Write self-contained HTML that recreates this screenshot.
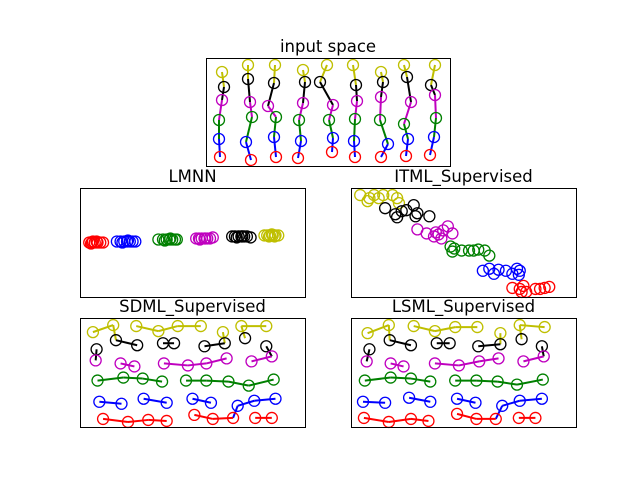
<!DOCTYPE html>
<html><head><meta charset="utf-8"><style>
body{margin:0;background:#fff;width:640px;height:480px;overflow:hidden}
text{font-family:"DejaVu Sans","Liberation Sans",sans-serif;font-size:16.5px;fill:#000}
</style></head><body>
<svg id="chart" width="640" height="480" viewBox="0 0 640 480" xmlns="http://www.w3.org/2000/svg"></svg>
<script>
const classes = ['yellow','black','magenta','green','blue','red'];
const classColors = {yellow:'#bfbf00',black:'#000000',magenta:'#bf00bf',green:'#008000',blue:'#0000ff',red:'#ff0000'};

// input space: 9 columns, one point per class
const inputX = {
 yellow:[16,42,69,97,121,147,175,198,229], black:[18,42,68,99,114,150,177,201,225],
 magenta:[16,44,62,97,127,151,175,205,229], green:[13,46,70,93,123,149,174,198,230],
 blue:[13,40,68,95,127,148,182,202,228], red:[14,45,70,92,126,149,175,200,224]};
const inputY = {
 yellow:[14,7,7,12,7,7,14,7,7], black:[29,21,25,24,24,27,24,19,27],
 magenta:[42,44,48,45,47,43,39,44,37], green:[62,59,59,62,62,61,62,66,60],
 blue:[81,84,79,83,80,83,86,81,79], red:[99,102,99,100,94,99,99,98,97]};

const lmnnX = {
 red:[10,13,16,19,22,25,14,18,12], blue:[40,44,48,51,54,57,60,46,52],
 green:[85,90,94,97,100,103,105,92,98], magenta:[126,129,132,135,138,141,144,130,136],
 black:[165,168,172,175,178,181,185,170,176], yellow:[200,203,206,209,212,215,205,208,211]};
const lmnnY = {
 red:[54,54,54,54,54,54,53,53,55], blue:[53,53,53,53,53,53,53,54,52],
 green:[51,51,51,51,51,51,51,52,50], magenta:[50,50,50,50,50,50,49,51,50],
 black:[48,48,48,48,48,48,49,49,48], yellow:[47,47,47,47,47,47,48,46,48]};

const itmlX = {
 yellow:[10,18,25,30,35,45,50,52,20], black:[37,48,55,60,68,72,70,85,50],
 magenta:[72,82,90,95,100,105,110,98,92], green:[108,110,120,128,133,138,145,150,112],
 blue:[143,150,160,168,175,180,182,155,183], red:[175,183,187,190,200,205,210,215,185]};
const itmlY = {
 yellow:[7,13,7,10,7,7,10,15,10], black:[20,26,23,22,17,25,28,28,29],
 magenta:[41,45,48,46,42,38,45,50,44], green:[58,63,62,62,62,61,62,67,60],
 blue:[82,80,81,82,85,80,86,85,82], red:[99,100,97,103,100,100,99,98,103]};

const sdmlX = {
 yellow:[14,36,61,85,106,131,155,175,202], black:[39,62,90,102,135,157,179,202,18],
 magenta:[17,44,59,91,117,137,159,186,208], green:[19,47,68,89,115,137,161,183,210],
 blue:[21,45,69,94,122,142,171,189,212], red:[25,52,74,94,124,144,166,190,208]};
const sdmlY = {
 yellow:[14,7,8,13,8,8,14,8,8], black:[22,27,25,25,28,25,20,28,31],
 magenta:[42,45,48,45,47,45,40,43,38], green:[62,59,60,63,62,62,63,67,61],
 blue:[83,85,80,84,80,84,87,82,80], red:[100,103,101,102,96,100,99,99,99]};

const lsmlX = {
 yellow:[18,41,68,91,113,137,162,183,210], black:[42,65,93,107,138,162,185,207,20],
 magenta:[17,43,57,91,117,139,160,187,209], green:[15,43,65,86,113,136,159,180,208],
 blue:[13,37,63,86,115,135,164,183,207], red:[14,41,65,84,115,136,157,182,200]};
const lsmlY = {
 yellow:[15,7,8,13,9,9,15,7,9], black:[22,27,25,25,28,26,21,28,31],
 magenta:[43,45,48,45,47,43,40,43,38], green:[62,59,60,63,62,62,63,66,61],
 blue:[83,84,79,83,80,84,87,82,80], red:[99,103,100,102,95,100,100,99,99]};

// row-chain links (index pairs) for SDML / LSML
const rowLinks = {
 yellow:[[0,1],[2,3],[3,4],[4,5],[7,8]], black:[[0,1],[2,3],[4,5]],
 magenta:[[1,2],[3,4],[4,5],[5,6],[7,8]], green:[[0,1],[1,2],[2,3],[4,5],[5,6],[6,7],[7,8]],
 blue:[[0,1],[2,3],[4,5],[6,7],[7,8]], red:[[0,1],[1,2],[2,3],[4,5],[5,6],[7,8]]};
// cross-class vertical links: [fromClass, fromIdx, toClass, toIdx]
const crossLinks = [['yellow',1,'black',0],['yellow',6,'black',5],['yellow',7,'black',6],['black',8,'magenta',0],['black',7,'magenta',8],['blue',6,'red',6]];

const NS='http://www.w3.org/2000/svg';
const svg=document.getElementById('chart');
function el(tag,attrs,parent){const e=document.createElementNS(NS,tag);for(const k in attrs)e.setAttribute(k,attrs[k]);(parent||svg).appendChild(e);return e;}

function panel(name,title,box,X,Y,mode){
  const g=el('g',{});
  
  
  const [bx,by,bw,bh]=box;
  const sx=v=>bx+v*bw/244, sy=v=>by+v*bh/108;
  const t=el('text',{x:bx+bw/2,y:by-6,'text-anchor':'middle'},g);
  t.textContent=title;
  
  
  classes.forEach((c,ci)=>{
    let pairs=[];
    if(mode==='input'){ if(ci<5) X[c].forEach((_,i)=>pairs.push([c,i,classes[ci+1],i])); }
    else if(mode==='rows'){ rowLinks[c].forEach(p=>pairs.push([c,p[0],c,p[1]])); crossLinks.filter(q=>q[0]===c).forEach(q=>pairs.push(q)); }
    pairs.forEach(p=>{
      const l=el('line',{x1:sx(X[p[0]][p[1]]),y1:sy(Y[p[0]][p[1]]),x2:sx(X[p[2]][p[3]]),y2:sy(Y[p[2]][p[3]]),stroke:classColors[c],'stroke-width':2},g);
      
      
    });
  });
  classes.forEach(c=>{
    X[c].forEach((v,i)=>{
      const p=el('circle',{cx:sx(v),cy:sy(Y[c][i]),r:5.5,fill:'none',stroke:classColors[c],'stroke-width':1.3},g);
      
      
    });
  });
  const f=el('rect',{x:bx+0.5,y:by+0.5,width:bw,height:bh,fill:'none',stroke:'#000','stroke-width':1},g);
  
  
}
panel('input-space','input space',[206,58,244,108],inputX,inputY,'input');
panel('lmnn','LMNN',[80,188,225,109],lmnnX,lmnnY,'none');
panel('itml','ITML_Supervised',[351,188,225,109],itmlX,itmlY,'none');
panel('sdml','SDML_Supervised',[80,318,225,109],sdmlX,sdmlY,'rows');
panel('lsml','LSML_Supervised',[351,318,225,109],lsmlX,lsmlY,'rows');
</script>
</body></html>
